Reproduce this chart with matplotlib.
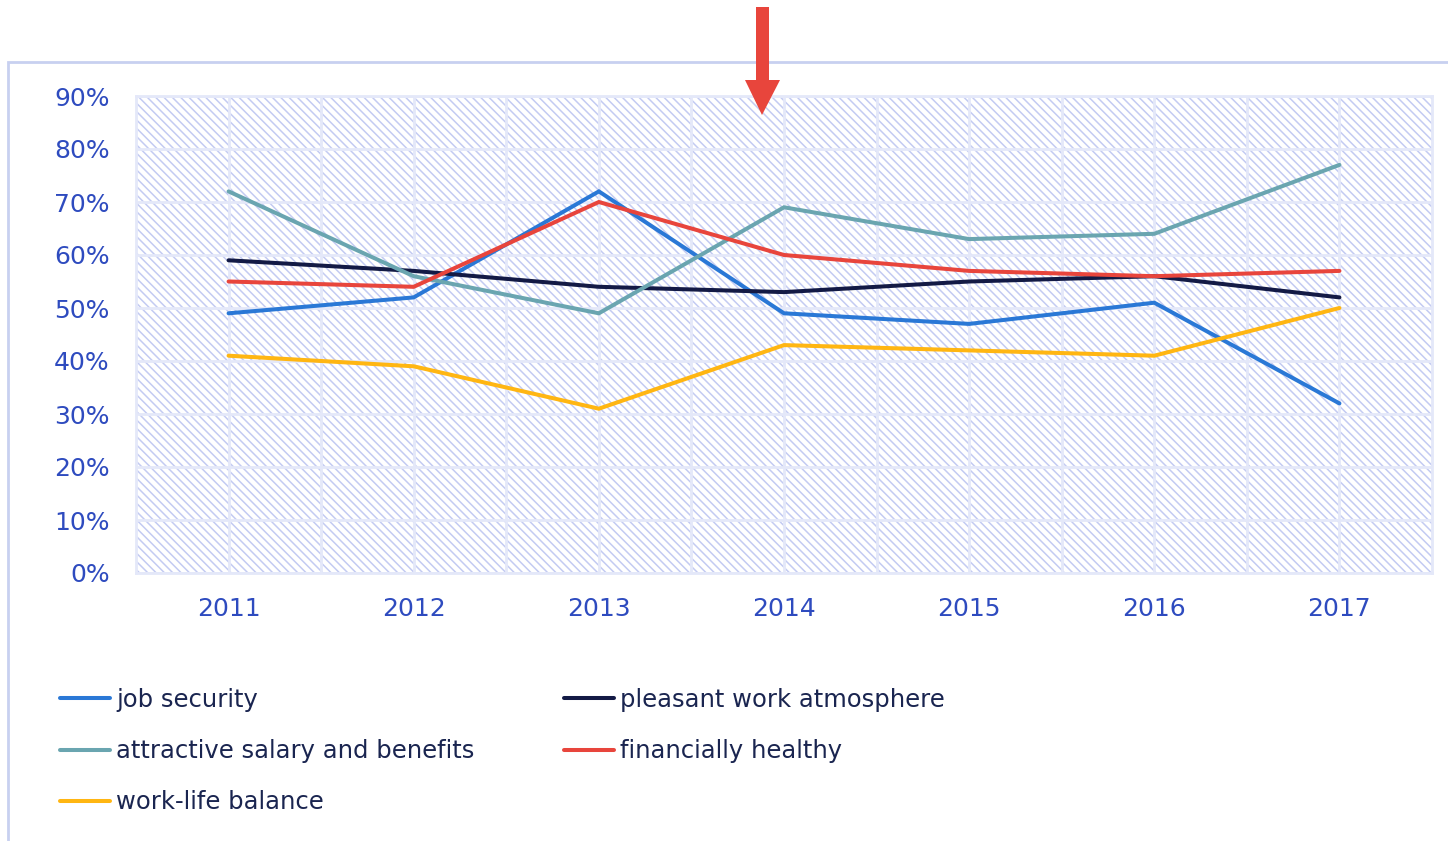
import matplotlib
matplotlib.use("Agg")
import matplotlib.pyplot as plt
from matplotlib.patches import Rectangle, Polygon
from matplotlib.ticker import FuncFormatter, MultipleLocator

years = [2011, 2012, 2013, 2014, 2015, 2016, 2017]
job_security = [49, 52, 72, 49, 47, 51, 32]
pleasant_atmosphere = [59, 57, 54, 53, 55, 56, 52]
salary_benefits = [72, 56, 49, 69, 63, 64, 77]
financially_healthy = [55, 54, 70, 60, 57, 56, 57]
work_life_balance = [41, 39, 31, 43, 42, 41, 50]

series = [
    ("job security", job_security, "#2a78d6"),
    ("pleasant work atmosphere", pleasant_atmosphere, "#131a45"),
    ("attractive salary and benefits", salary_benefits, "#6aa5b0"),
    ("financially healthy", financially_healthy, "#e8453c"),
    ("work-life balance", work_life_balance, "#ffb612"),
]

tick_col = "#2e4bbf"
text_col = "#1a2550"
grid_col = "#e4e8f9"
hatch_col = "#c3cbf2"

plt.rcParams["font.family"] = ["DejaVu Sans"]
plt.rcParams["hatch.linewidth"] = 1.1

W, H = 1448, 841
fig = plt.figure(figsize=(W / 100, H / 100), dpi=100)

# outer chart frame
fig.patches.append(Rectangle((8 / W, -0.05), 1.1, (H - 62) / H + 0.05,
                             transform=fig.transFigure, fill=False,
                             edgecolor="#c8d0f0", lw=2))

ax = fig.add_axes([136 / W, (H - 573) / H, (1432 - 136) / W, (573 - 96) / H])
ax.set_facecolor("white")
# diagonal hatch fill of the plot area
ax.add_patch(Rectangle((0, 0), 1, 1, transform=ax.transAxes, facecolor="none",
                       edgecolor=hatch_col, lw=0, hatch="\\" * 4, zorder=0))

x = list(range(len(years)))
lines = {}
for name, vals, col in series:
    ln, = ax.plot(x, vals, color=col, lw=2.9, solid_capstyle="round",
                  solid_joinstyle="miter", zorder=3, label=name)
    lines[name] = ln

ax.set_xlim(-0.5, len(years) - 0.5)
ax.set_ylim(0, 90)
ax.yaxis.set_major_locator(MultipleLocator(10))
ax.yaxis.set_major_formatter(FuncFormatter(lambda v, p: f"{v:.0f}%"))
ax.set_xticks(x)
ax.set_xticklabels([str(y) for y in years])
ax.set_xticks([i + 0.5 for i in x[:-1]], minor=True)

ax.set_axisbelow(False)
ax.grid(True, which="both", color=grid_col, lw=2, zorder=2)
for s in ax.spines.values():
    s.set_color(grid_col)
    s.set_linewidth(2)

ax.tick_params(which="both", length=0)
ax.tick_params(axis="y", labelsize=18, labelcolor=tick_col, pad=19)
ax.tick_params(axis="x", labelsize=18, labelcolor=tick_col, pad=17)

# legend in two columns below the plot
leg_kw = dict(frameon=False, fontsize=17.5, handlelength=2.06,
              handletextpad=0.25, labelspacing=1.12, borderaxespad=0,
              borderpad=0, labelcolor=text_col)
col1 = ["job security", "attractive salary and benefits", "work-life balance"]
col2 = ["pleasant work atmosphere", "financially healthy"]
fig.legend([lines[n] for n in col1], col1, loc="upper left",
           bbox_to_anchor=(60 / W, (H - 688) / H), **leg_kw)
fig.legend([lines[n] for n in col2], col2, loc="upper left",
           bbox_to_anchor=(564 / W, (H - 688) / H), **leg_kw)

# red marker arrow pointing down into the plot
px = [(756, 7), (769, 7), (769, 80), (780, 80), (762, 115), (745, 80), (756, 80)]
arrow = Polygon([(a / 100, (H - b) / 100) for a, b in px], closed=True,
                transform=fig.dpi_scale_trans, facecolor="#e8453c",
                edgecolor="none", zorder=10)
fig.patches.append(arrow)

fig.savefig("out.png", dpi=100)
